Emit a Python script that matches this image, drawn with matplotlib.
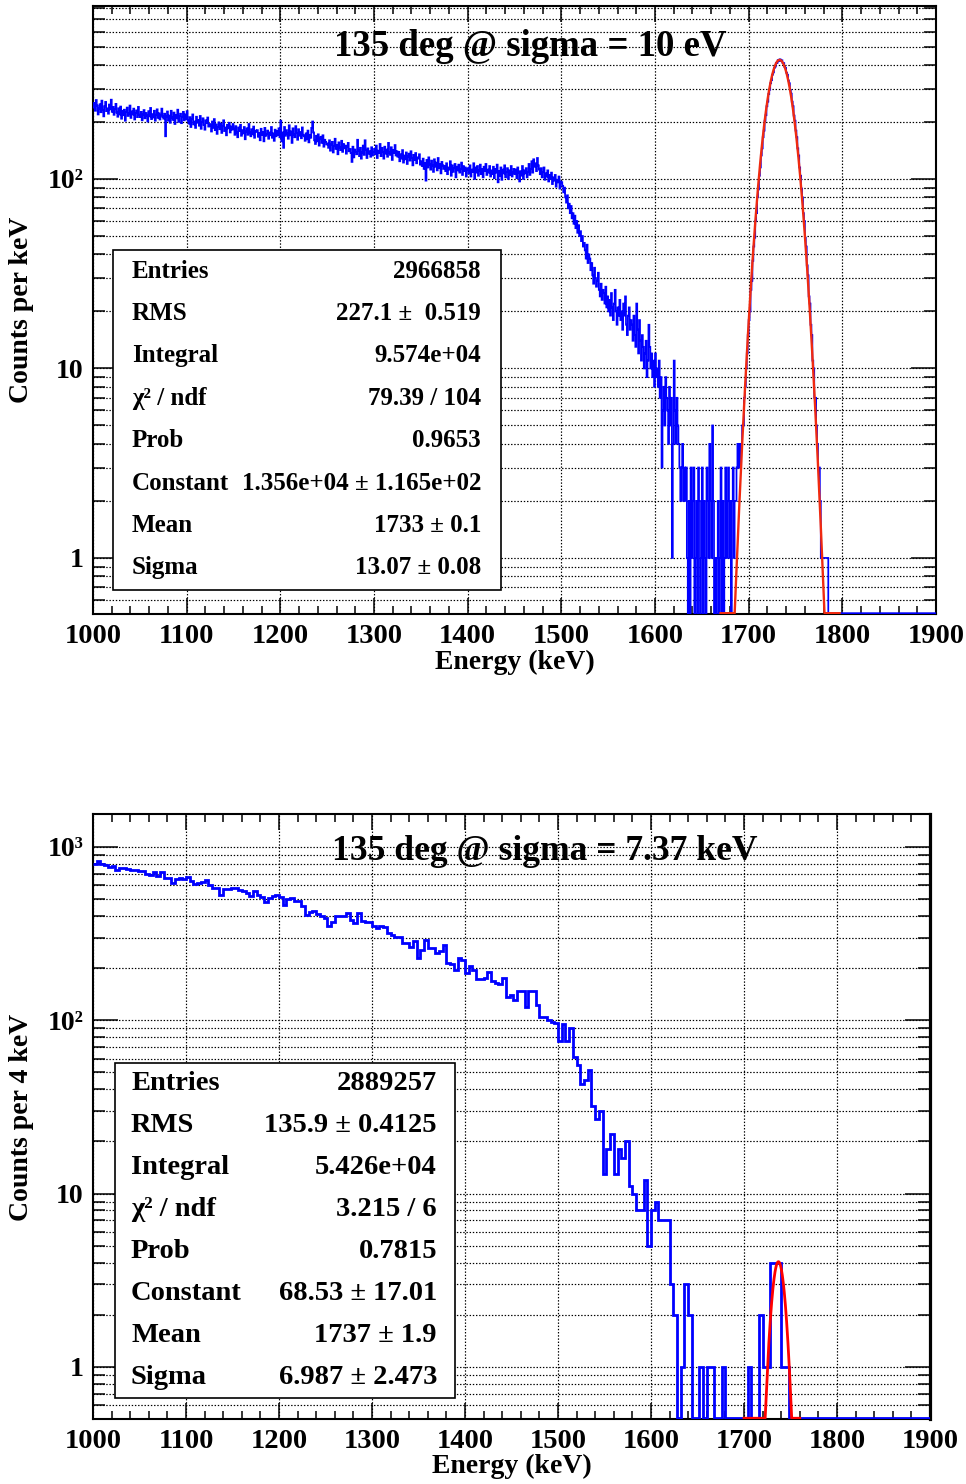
import numpy as np
import matplotlib
matplotlib.use('Agg')
import matplotlib.pyplot as plt
from matplotlib.ticker import MultipleLocator, FixedLocator, FixedFormatter, NullFormatter
from matplotlib.patches import Rectangle

# ---------------- data ----------------
# Top panel: counts per keV, 1 keV bins from 1000 to 1900 keV
top_edges_start = 1000
top_bin_width = 1
top_counts = [
    238, 252, 229, 261, 244, 219, 236, 248, 225, 259, 231, 214, 242, 255, 228, 236, 221, 247, 233, 262, 226, 240, 218, 234, 249,
    224, 213, 236, 219, 241, 208, 229, 217, 232, 203, 226, 238, 215, 221, 244, 210, 227, 219, 235, 206, 223, 230, 212, 240, 218,
    212, 226, 204, 219, 231, 209, 223, 216, 201, 228, 214, 237, 207, 220, 211, 229, 203, 218, 233, 210, 222, 206, 217, 235, 213,
    208, 221, 168, 214, 227, 203, 216, 198, 229, 211, 205, 224, 195, 218, 209, 232, 200, 215, 221, 197, 212, 226, 204, 219, 207,
    228, 203, 196, 212, 188, 207, 219, 194, 201, 186, 213, 198, 205, 191, 215, 184, 200, 209, 193, 182, 204, 197, 211, 189, 195,
    192, 178, 201, 186, 207, 181, 194, 173, 188, 199, 183, 196, 175, 190, 204, 179, 187, 170, 193, 185, 198, 176, 189, 182, 195,
    184, 171, 190, 176, 166, 187, 179, 193, 169, 181, 174, 188, 162, 178, 185, 171, 195, 176, 168, 183, 172, 189, 165, 180, 177,
    181, 167, 175, 160, 184, 171, 177, 158, 186, 169, 173, 180, 163, 176, 170, 188, 165, 174, 159, 182, 168, 179, 171, 185, 166,
    203, 158, 176, 146, 188, 169, 181, 174, 163, 192, 170, 178, 155, 185, 172, 166, 190, 175, 161, 183, 169, 177, 164, 187, 171,
    168, 159, 174, 162, 180, 156, 171, 165, 186, 201, 176, 160, 153, 169, 158, 172, 150, 163, 167, 155, 170, 148, 161, 157, 152,
    154, 146, 160, 141, 152, 157, 138, 149, 163, 144, 151, 135, 156, 147, 142, 159, 139, 153, 145, 150, 136, 148, 155, 140, 144,
    137, 123, 148, 130, 143, 139, 135, 161, 141, 132, 146, 128, 138, 150, 134, 160, 142, 129, 145, 136, 140, 131, 147, 133, 139,
    144, 135, 150, 129, 141, 137, 153, 132, 146, 139, 128, 148, 136, 143, 131, 155, 138, 134, 147, 126, 142, 137, 151, 133, 140,
    131, 139, 124, 135, 128, 142, 122, 133, 127, 138, 120, 131, 136, 125, 140, 129, 118, 134, 126, 137, 121, 130, 128, 135, 119,
    124, 117, 128, 113, 121, 98, 126, 115, 130, 119, 112, 125, 118, 109, 127, 116, 122, 111, 129, 114, 120, 107, 123, 118, 113,
    117, 110, 121, 106, 115, 112, 124, 104, 118, 109, 114, 120, 102, 116, 111, 119, 108, 113, 122, 105, 117, 110, 115, 103, 112,
    114, 107, 118, 103, 112, 109, 121, 100, 115, 108, 117, 104, 111, 119, 106, 113, 102, 116, 110, 120, 105, 112, 108, 117, 103,
    111, 106, 116, 101, 113, 108, 119, 96, 110, 104, 115, 99, 112, 107, 118, 102, 109, 114, 100, 111, 105, 117, 103, 108, 113,
    106, 112, 101, 115, 108, 97, 110, 104, 117, 100, 111, 107, 114, 102, 109, 120, 105, 113, 124, 108, 127, 116, 121, 110, 129,
    118, 112, 106, 114, 102, 109, 115, 99, 107, 103, 111, 97, 105, 100, 108, 94, 102, 98, 105, 91, 99, 96, 103, 89, 97,
    96, 92, 85, 90, 80, 75, 82, 70, 74, 66, 72, 62, 66, 58, 64, 55, 60, 52, 57, 50, 53, 47, 50, 44, 46,
    42, 38, 45, 36, 40, 38, 33, 36, 31, 28, 34, 30, 27, 29, 32, 26, 24, 28, 23, 26, 25, 22, 27, 21, 24,
    20, 23, 19, 25, 21, 18, 22, 26, 20, 17, 21, 19, 23, 18, 20, 16, 22, 19, 24, 17, 15, 19, 21, 16, 18,
    17, 14, 19, 15, 13, 22, 16, 12, 18, 14, 11, 15, 13, 10, 12, 14, 9, 11, 17, 13, 10, 12, 9, 11, 8,
    12, 9, 10, 8, 11, 7, 9, 3, 6, 8, 5, 9, 7, 6, 4, 8, 5, 7, 1, 4, 11, 6, 4, 7, 5,
    4, 3, 2, 3, 4, 2, 3, 2, 3, 1, 0, 2, 0, 3, 1, 2, 3, 0, 1, 2, 0, 3, 2, 0, 1,
    3, 0, 2, 1, 0, 3, 2, 1, 4, 2, 1, 5, 2, 0, 1, 0, 1, 2, 0, 1, 3, 0, 2, 0, 1,
    3, 1, 2, 3, 1, 2, 0, 2, 3, 1, 2, 2, 3, 4, 3, 4, 3, 4, 5, 5, 7, 8, 10, 12, 15,
    18, 20, 26, 29, 37, 44, 49, 60, 66, 80, 88, 104, 115, 133, 145, 166, 180, 203, 217, 242, 256, 281, 296, 320, 332,
    355, 365, 386, 392, 409, 411, 424, 420, 428, 421, 423, 410, 408, 391, 385, 364, 355, 331, 320, 295, 282, 256, 242, 216, 203,
    180, 166, 145, 133, 115, 104, 89, 80, 66, 60, 49, 44, 35, 31, 24, 22, 17, 15, 11, 10, 7, 7, 5, 4, 3,
    3, 2, 1, 1, 1, 1, 1, 1, 1, 1, 0, 0, 0, 0, 0, 0, 0, 0, 0, 0, 0, 0, 0, 0, 0,
    0, 0, 0, 0, 0, 0, 0, 0, 0, 0, 0, 0, 0, 0, 0, 0, 0, 0, 0, 0, 0, 0, 0, 0, 0,
    0, 0, 0, 0, 0, 0, 0, 0, 0, 0, 0, 0, 0, 0, 0, 0, 0, 0, 0, 0, 0, 0, 0, 0, 0,
    0, 0, 0, 0, 0, 0, 0, 0, 0, 0, 0, 0, 0, 0, 0, 0, 0, 0, 0, 0, 0, 0, 0, 0, 0,
    0, 0, 0, 0, 0, 0, 0, 0, 0, 0, 0, 0, 0, 0, 0, 0, 0, 0, 0, 0, 0, 0, 0, 0, 0,
]
# Top fit (Gaussian as drawn)
top_fit_amp, top_fit_mean, top_fit_sigma = 425.0, 1733.0, 13.07
top_fit_range = (1670, 1797)

# Bottom panel: counts per 4 keV, 4 keV bins from 1000 to 1900 keV
bot_edges_start = 1000
bot_bin_width = 4
bot_counts = [
    796, 834, 800, 788, 771, 775, 740, 754, 754, 745, 740, 735, 725, 725, 700, 690, 720, 680, 720, 660, 665, 620, 655, 660, 650,
    670, 640, 615, 620, 625, 646, 600, 580, 578, 530, 570, 575, 580, 580, 565, 560, 540, 520, 555, 525, 515, 484, 510, 520, 525,
    515, 460, 500, 505, 490, 485, 455, 406, 420, 425, 410, 400, 390, 350, 371, 397, 397, 400, 415, 380, 363, 415, 375, 371, 371,
    350, 340, 350, 345, 318, 312, 301, 303, 280, 279, 265, 285, 228, 255, 291, 262, 261, 244, 250, 272, 213, 212, 195, 228, 222,
    187, 205, 196, 173, 172, 175, 190, 168, 165, 163, 175, 137, 140, 131, 147, 147, 120, 147, 147, 122, 105, 104, 100, 98, 97,
    76, 95, 76, 90, 61, 55, 43, 45, 52, 32, 27, 30, 13, 18, 22, 13, 18, 16, 20, 11, 10, 8, 8, 12, 5,
    8, 9, 7, 7, 7, 3, 2, 0, 1, 3, 2, 0, 0, 1, 0, 1, 1, 0, 0, 1, 0, 0, 0, 0, 0,
    0, 1, 0, 0, 2, 1, 1, 4, 4, 4, 1, 1, 0, 0, 0, 0, 0, 0, 0, 0, 0, 0, 0, 0, 0,
    0, 0, 0, 0, 0, 0, 0, 0, 0, 0, 0, 0, 0, 0, 0, 0, 0, 0, 0, 0, 0, 0, 0, 0, 0,
]
bot_fit_amp, bot_fit_mean, bot_fit_sigma = 4.05, 1737.0, 6.987
bot_fit_range = (1700, 1760)

assert len(top_counts) == 900, len(top_counts)
assert len(bot_counts) == 225, len(bot_counts)

top_title = "135 deg @ sigma = 10 eV"
bot_title = "135 deg @ sigma = 7.37 keV"
xlabel = "Energy (keV)"
top_ylabel = "Counts per keV"
bot_ylabel = "Counts per 4 keV"

top_stats = [("Entries", "2966858"), ("RMS", "227.1 \u00b1  0.519"), ("Integral", "9.574e+04"),
             ("\u03c7\u00b2 / ndf", "79.39 / 104"), ("Prob", "0.9653"),
             ("Constant", "1.356e+04 \u00b1 1.165e+02"), ("Mean", "1733 \u00b1 0.1"),
             ("Sigma", "13.07 \u00b1 0.08")]
bot_stats = [("Entries", "2889257"), ("RMS", "135.9 \u00b1 0.4125"), ("Integral", "5.426e+04"),
             ("\u03c7\u00b2 / ndf", "3.215 / 6"), ("Prob", "0.7815"),
             ("Constant", "68.53 \u00b1 17.01"), ("Mean", "1737 \u00b1 1.9"),
             ("Sigma", "6.987 \u00b1 2.473")]

top_yticks = [1, 10, 100]
top_ylabels = ["1", "10", "10\u00b2"]
bot_yticks = [1, 10, 100, 1000]
bot_ylabels = ["1", "10", "10\u00b2", "10\u00b3"]

# ---------------- figure ----------------
W, H = 966, 1484
plt.rcParams['font.family'] = ['Liberation Serif', 'DejaVu Serif']
plt.rcParams['font.weight'] = 'bold'
fig = plt.figure(figsize=(W / 100, H / 100), dpi=100, facecolor='white')


def fx(x):
    return x / W


def fy(y):
    return 1 - y / H


def make_axes(l, t, r, b):
    return fig.add_axes([fx(l), fy(b), (r - l) / W, (b - t) / H])


GRID_LS = (0, (1.2, 1.5))


def setup(ax, ymin, ymax, yticks, ylabels):
    ax.set_xlim(1000, 1900)
    ax.set_yscale('log')
    ax.set_ylim(ymin, ymax)
    ax.xaxis.set_major_locator(MultipleLocator(100))
    ax.xaxis.set_minor_locator(MultipleLocator(20))
    ax.yaxis.set_major_locator(FixedLocator(yticks))
    ax.yaxis.set_major_formatter(FixedFormatter(ylabels))
    minors = [m * 10.0 ** e for e in range(-1, 4) for m in range(2, 10)]
    ax.yaxis.set_minor_locator(FixedLocator(minors))
    ax.yaxis.set_minor_formatter(NullFormatter())
    ax.tick_params(which='both', direction='in', top=True, right=True, width=1.1, color='black')
    ax.tick_params(axis='x', which='major', length=11.5, labelsize=20.5, pad=7)
    ax.tick_params(axis='x', which='minor', length=5.8)
    ax.tick_params(axis='y', which='major', length=18, labelsize=20, pad=7)
    ax.tick_params(axis='y', which='minor', length=8.6)
    ax.grid(True, axis='x', which='major', ls=GRID_LS, color='black', lw=0.85)
    ax.grid(True, axis='y', which='both', ls=GRID_LS, color='black', lw=0.85)
    ax.set_axisbelow(True)
    for s in ax.spines.values():
        s.set_linewidth(1.5)


def draw_hist(ax, start, width, counts, ymin, color, lw):
    counts = np.asarray(counts, dtype=float)
    edges = start + width * np.arange(len(counts) + 1)
    shown = np.maximum(counts, ymin * 1.01)
    ax.stairs(shown, edges, baseline=None, color=color, lw=lw, zorder=3)


def draw_fit(ax, amp, mean, sigma, rng, ymin, color, lw):
    x = np.linspace(rng[0], rng[1], 600)
    g = amp * np.exp(-0.5 * ((x - mean) / sigma) ** 2)
    ax.plot(x, np.maximum(g, ymin * 1.01), color=color, lw=lw, zorder=4)


def stats_box(l, t, r, b, rows, xname, xval, y0, dy, size):
    fig.add_artist(Rectangle((fx(l), fy(b)), (r - l) / W, (b - t) / H,
                             transform=fig.transFigure, facecolor='white',
                             edgecolor='black', lw=1.2, zorder=5))
    for i, (name, val) in enumerate(rows):
        y = y0 + i * dy
        fig.text(fx(xname), fy(y), name, ha='left', va='center', fontsize=size,
                 fontweight='bold', zorder=6)
        fig.text(fx(xval), fy(y), val, ha='right', va='center', fontsize=size,
                 fontweight='bold', zorder=6)


# ---- top panel ----
ax1 = make_axes(93, 6, 936, 614)
y1min, y1max = 0.506, 818
setup(ax1, y1min, y1max, top_yticks, top_ylabels)
draw_hist(ax1, top_edges_start, top_bin_width, top_counts, y1min, '#0000ff', 1.25)
draw_fit(ax1, top_fit_amp, top_fit_mean, top_fit_sigma, top_fit_range, y1min, '#f02a10', 1.7)
fig.text(fx(530), fy(46), top_title, ha='center', va='center', fontsize=26.5, fontweight='bold')
fig.text(fx(515), fy(662), xlabel, ha='center', va='center', fontsize=20, fontweight='bold')
fig.text(fx(22), fy(310), top_ylabel, ha='center', va='center', rotation=90, fontsize=20,
         fontweight='bold')
stats_box(113, 250, 501, 590, top_stats, 132, 481, 271, 42.4, 18)

# ---- bottom panel ----
ax2 = make_axes(93, 814, 930, 1419)
y2min, y2max = 0.501, 1549
setup(ax2, y2min, y2max, bot_yticks, bot_ylabels)
ax2.spines['right'].set_linewidth(2.3)
draw_hist(ax2, bot_edges_start, bot_bin_width, bot_counts, y2min, '#0000ff', 2.0)
draw_fit(ax2, bot_fit_amp, bot_fit_mean, bot_fit_sigma, bot_fit_range, y2min, '#ff0000', 2.0)
fig.text(fx(545), fy(852), bot_title, ha='center', va='center', fontsize=25.6, fontweight='bold')
fig.text(fx(512), fy(1466), xlabel, ha='center', va='center', fontsize=20, fontweight='bold')
fig.text(fx(22), fy(1117), bot_ylabel, ha='center', va='center', rotation=90, fontsize=20,
         fontweight='bold')
stats_box(115, 1063, 455, 1398, bot_stats, 131, 437, 1084, 41.9, 20.5)

fig.savefig('out.png', dpi=100, facecolor='white')
